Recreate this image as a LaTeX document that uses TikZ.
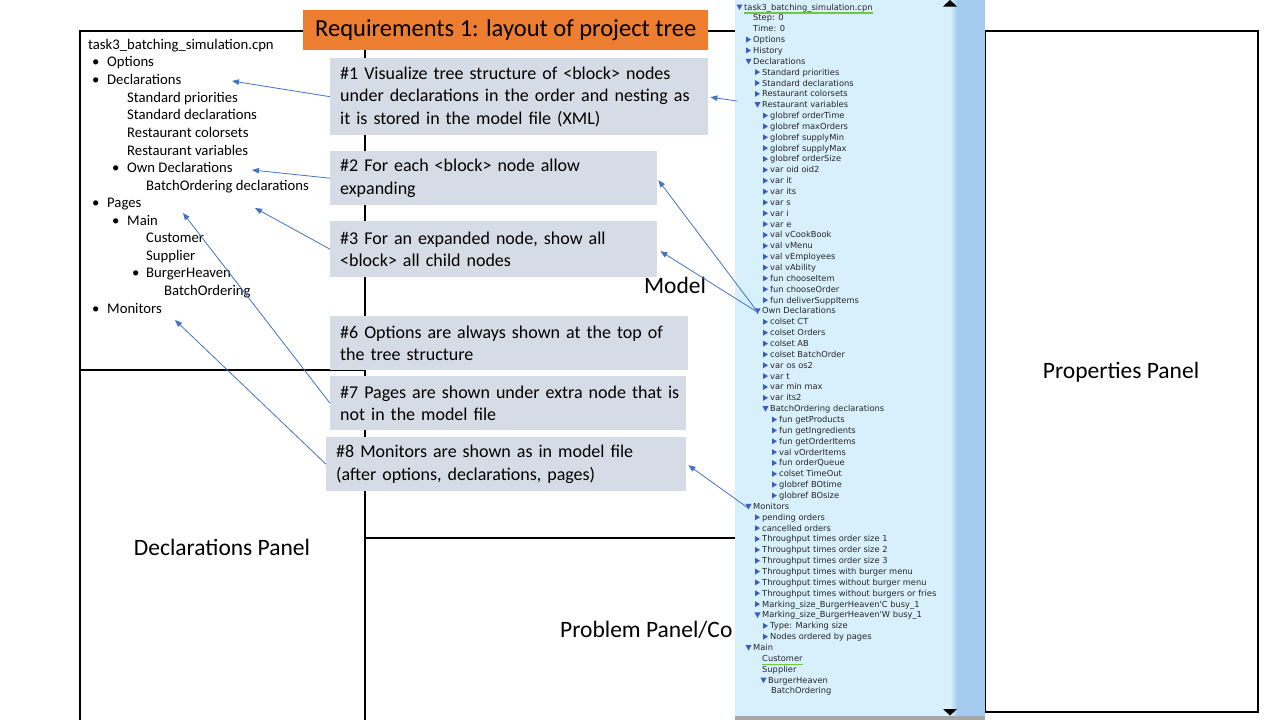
\documentclass[tikz,border=0pt]{standalone}
\usepackage{fontspec}
\setmainfont{Carlito}
\newfontfamily\treefont{DejaVu Sans}
\usetikzlibrary{arrows.meta,calc}

\definecolor{titleorange}{HTML}{ED7D31}
\definecolor{notegray}{HTML}{D6DCE5}
\definecolor{linkblue}{HTML}{4472C4}
\definecolor{treebg}{HTML}{D8F0FC}
\definecolor{scrollblue}{HTML}{A4CBEF}
\definecolor{tritone}{HTML}{3B5CC6}
\definecolor{selgreen}{HTML}{6CCB3A}

% project tree rows: row index, text x, text
\newcommand\trowN[3]{\node[treetxt] (t#1) at (#2,{10+10.857*#1}) {#3};}
\newcommand\trowR[3]{%
  \fill[tritone] (#2-7,{7+10.857*#1-3}) -- ++(5,3) -- ++(-5,3) -- cycle;
  \trowN{#1}{#2}{#3}}
\newcommand\trowD[3]{%
  \fill[tritone] (#2-7.5,{7+10.857*#1-2.5}) -- ++(6,0) -- ++(-3,5.5) -- cycle;
  \trowN{#1}{#2}{#3}}
% outline rows on the left: name, x, y, text
\newcommand\lrow[4]{\node[ltxt] (#1) at (#2,#3+5) {#4};}
\newcommand\lbul[3]{\node[ltxt] (#1) at (#2,#3+5) {•};}

\begin{document}
\begin{tikzpicture}[x=1pt,y=-1pt,
  frame/.style={line width=1.1pt,black},
  ltxt/.style={anchor=base west,inner sep=0pt,font=\fontsize{14.7}{17}\selectfont},
  treetxt/.style={anchor=base west,inner sep=0pt,font=\treefont\fontsize{8.3}{9.5}\selectfont,text=black!85},
  notebox/.style={fill=notegray,anchor=north west,inner xsep=10pt,inner ysep=0pt,align=left,
    font=\fontsize{18}{22.5}\selectfont},
  panellabel/.style={inner sep=0pt,font=\fontsize{23.5}{26}\selectfont},
  arr/.style={draw=linkblue,line width=0.8pt,-{Triangle[length=7pt,width=5.5pt]}}
]
\useasboundingbox (0,0) rectangle (1280,720);
\fill[white] (0,0) rectangle (1280,720);

% panel outlines
\draw[frame] (80,720) -- (80,31) -- (735,31);
\draw[frame] (365,31) -- (365,720);
\draw[frame] (80,370) -- (365,370);
\draw[frame] (365,538) -- (735,538);
\draw[frame] (985,31) rectangle (1258,712);

% panel names
\node[panellabel] (model) at (675,285) {Model};
\node[panellabel] (props) at (1121,372) {Properties Panel};
\node[panellabel] (decls) at (222,547) {Declarations Panel};
\node[panellabel,anchor=west] (probs) at (560,630) {Problem Panel/Co};

% outline of the project tree
\lrow{l0}{88}{44}{task3\_batching\_simulation.cpn}
\lbul{l1b}{92}{61}\lrow{l1}{107}{61}{Options}
\lbul{l2b}{92}{79}\lrow{l2}{107}{79}{Declarations}
\lrow{l3}{127}{97}{Standard priorities}
\lrow{l4}{127}{114}{Standard declarations}
\lrow{l5}{127}{132}{Restaurant colorsets}
\lrow{l6}{127}{150}{Restaurant variables}
\lbul{l7b}{112}{167}\lrow{l7}{127}{167}{Own Declarations}
\lrow{l8}{146}{185}{BatchOrdering declarations}
\lbul{l9b}{92}{202}\lrow{l9}{107}{202}{Pages}
\lbul{l10b}{112}{220}\lrow{l10}{127}{220}{Main}
\lrow{l11}{146}{237}{Customer}
\lrow{l12}{146}{255}{Supplier}
\lbul{l13b}{132}{272}\lrow{l13}{146}{272}{BurgerHeaven}
\lrow{l14}{164}{290}{BatchOrdering}
\lbul{l15b}{92}{308}\lrow{l15}{107}{308}{Monitors}

% heading
\node[fill=titleorange,anchor=north west,minimum width=405pt,minimum height=40pt,inner sep=0pt,
  font=\fontsize{24.5}{27}\selectfont] (title) at (303,10) {Requirements 1: layout of project tree};

% requirement notes (each line kept whole)
\node[notebox,minimum width=378pt,minimum height=77pt,text width=358pt] (b1) at (330,58)
  {\mbox{\#1 Visualize tree structure of <block> nodes}\\\mbox{under declarations in the order and nesting as}\\\mbox{it is stored in the model file (XML)}};
\node[notebox,minimum width=327pt,minimum height=54pt,text width=307pt] (b2) at (330,151)
  {\mbox{\#2 For each <block> node allow}\\\mbox{expanding}};
\node[notebox,minimum width=327pt,minimum height=56pt,text width=307pt] (b3) at (330,221)
  {\mbox{\#3 For an expanded node, show all}\\\mbox{<block> all child nodes}};
\node[notebox,minimum width=358pt,minimum height=54pt,text width=338pt] (b6) at (330,316)
  {\mbox{\#6 Options are always shown at the top of}\\\mbox{the tree structure}};
\node[notebox,minimum width=356pt,minimum height=54pt,text width=336pt] (b7) at (330,376)
  {\mbox{\#7 Pages are shown under extra node that is}\\\mbox{not in the model file}};
\node[notebox,minimum width=360pt,minimum height=54pt,text width=340pt] (b8) at (326,437)
  {\mbox{\#8 Monitors are shown as in model file}\\\mbox{(after options, declarations, pages)}};

% project tree window with scroll bar
\fill[treebg] (735,0) rectangle (985,720);
\shade[left color=treebg,right color=scrollblue] (950,0) rectangle (957,716);
\fill[scrollblue] (957,0) rectangle (985,716);
\fill[black!35] (735,716) rectangle (985,720);
\fill[black] (943,6.5) -- (957,6.5) -- (950,0) -- cycle;
\fill[black] (943,709) -- (957,709) -- (950,715.5) -- cycle;

\trowD{0}{744}{task3\_batching\_simulation.cpn}
\draw[selgreen,line width=1.3pt] ($(t0.base west)+(0,3)$) -- ($(t0.base east)+(0,3)$);
\trowN{1}{753}{Step: 0}
\trowN{2}{753}{Time: 0}
\trowR{3}{753}{Options}
\trowR{4}{753}{History}
\trowD{5}{753}{Declarations}
\trowR{6}{762}{Standard priorities}
\trowR{7}{762}{Standard declarations}
\trowR{8}{762}{Restaurant colorsets}
\trowD{9}{762}{Restaurant variables}
\trowR{10}{770}{globref orderTime}
\trowR{11}{770}{globref maxOrders}
\trowR{12}{770}{globref supplyMin}
\trowR{13}{770}{globref supplyMax}
\trowR{14}{770}{globref orderSize}
\trowR{15}{770}{var oid oid2}
\trowR{16}{770}{var it}
\trowR{17}{770}{var its}
\trowR{18}{770}{var s}
\trowR{19}{770}{var i}
\trowR{20}{770}{var e}
\trowR{21}{770}{val vCookBook}
\trowR{22}{770}{val vMenu}
\trowR{23}{770}{val vEmployees}
\trowR{24}{770}{val vAbility}
\trowR{25}{770}{fun chooseItem}
\trowR{26}{770}{fun chooseOrder}
\trowR{27}{770}{fun deliverSuppItems}
\trowD{28}{762}{Own Declarations}
\trowR{29}{770}{colset CT}
\trowR{30}{770}{colset Orders}
\trowR{31}{770}{colset AB}
\trowR{32}{770}{colset BatchOrder}
\trowR{33}{770}{var os os2}
\trowR{34}{770}{var t}
\trowR{35}{770}{var min max}
\trowR{36}{770}{var its2}
\trowD{37}{770}{BatchOrdering declarations}
\trowR{38}{779}{fun getProducts}
\trowR{39}{779}{fun getIngredients}
\trowR{40}{779}{fun getOrderItems}
\trowR{41}{779}{val vOrderItems}
\trowR{42}{779}{fun orderQueue}
\trowR{43}{779}{colset TimeOut}
\trowR{44}{779}{globref BOtime}
\trowR{45}{779}{globref BOsize}
\trowD{46}{753}{Monitors}
\trowR{47}{762}{pending orders}
\trowR{48}{762}{cancelled orders}
\trowR{49}{762}{Throughput times order size 1}
\trowR{50}{762}{Throughput times order size 2}
\trowR{51}{762}{Throughput times order size 3}
\trowR{52}{762}{Throughput times with burger menu}
\trowR{53}{762}{Throughput times without burger menu}
\trowR{54}{762}{Throughput times without burgers or fries}
\trowR{55}{762}{Marking\_size\_BurgerHeaven\textquotesingle C busy\_1}
\trowD{56}{762}{Marking\_size\_BurgerHeaven\textquotesingle W busy\_1}
\trowR{57}{770}{Type: Marking size}
\trowR{58}{770}{Nodes ordered by pages}
\trowD{59}{753}{Main}
\trowN{60}{762}{Customer}
\draw[selgreen,line width=1.3pt] ($(t60.base west)+(0,3)$) -- ($(t60.base east)+(0,3)$);
\trowN{61}{762}{Supplier}
\trowD{62}{768}{BurgerHeaven}
\trowN{63}{771}{BatchOrdering}

% arrow targets
\coordinate (pDecl) at (232,81);
\coordinate (pOwn) at (252,170);
\coordinate (pBatch) at (255,208);
\coordinate (pPages) at (183,213);
\coordinate (pMon) at (175,320);
\coordinate (qVars) at (737,101);
\coordinate (qOwn) at ($(t28.base west)+(-4,-1.5)$);
\coordinate (qMon) at ($(t46.base west)+(-5,-1.5)$);

% links from notes to the outline
\draw[arr] (b1.west) -- (pDecl);
\draw[arr] (b2.west) -- (pOwn);
\draw[arr] (b3.west) -- (pBatch);
\draw[arr] (b7.west) -- (pPages);
\draw[arr] (b8.west) -- (pMon);
% links from the project tree to the notes
\draw[arr] (qVars) -- ($(b1.east)+(2,0.5)$);
\draw[arr] (qOwn) -- ($(b2.east)+(1,2)$);
\draw[arr] (qOwn) -- ($(b3.east)+(3,2)$);
\draw[arr] (qMon) -- ($(b8.east)+(2,1)$);
\end{tikzpicture}
\end{document}
